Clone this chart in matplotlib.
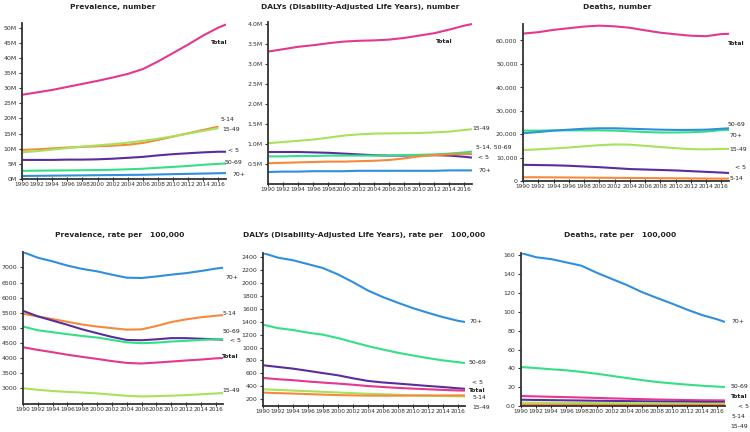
import numpy as np
import matplotlib
matplotlib.use("Agg")
import matplotlib.pyplot as plt
from matplotlib.ticker import FuncFormatter

years = [1990, 1992, 1994, 1996, 1998, 2000, 2002, 2004, 2006, 2008, 2010, 2012, 2014, 2016, 2017]
groups = ["Total", "5-14", "15-49", "< 5", "50-69", "70+"]
colors = {"Total": "#e4378d", "5-14": "#f5893d", "15-49": "#a8e25c",
          "< 5": "#5a2d9f", "50-69": "#34df86", "70+": "#2f8fdd"}

# Prevalence, number (millions)
prev_num = {
    "Total": [27.8, 28.6, 29.4, 30.4, 31.4, 32.4, 33.5, 34.7, 36.3, 38.8, 41.6, 44.4, 47.4, 50.0, 51.0],
    "5-14": [9.6, 9.8, 10.1, 10.4, 10.6, 10.8, 11.0, 11.3, 11.9, 12.9, 14.0, 15.1, 16.2, 17.3, np.nan],
    "15-49": [8.8, 9.2, 9.7, 10.2, 10.7, 11.1, 11.5, 12.0, 12.6, 13.3, 14.1, 15.0, 15.9, 16.8, np.nan],
    "< 5": [6.3, 6.3, 6.3, 6.4, 6.4, 6.5, 6.7, 7.0, 7.3, 7.8, 8.2, 8.5, 8.8, 9.0, 9.0],
    "50-69": [2.7, 2.75, 2.8, 2.85, 2.9, 2.95, 3.05, 3.2, 3.4, 3.7, 4.0, 4.3, 4.7, 5.0, 5.1],
    "70+": [1.0, 1.05, 1.1, 1.15, 1.2, 1.25, 1.3, 1.35, 1.4, 1.5, 1.6, 1.7, 1.8, 1.9, 1.95],
}
# DALYs, number (millions)
daly_num = {
    "Total": [3.31, 3.37, 3.43, 3.47, 3.52, 3.56, 3.58, 3.59, 3.61, 3.65, 3.71, 3.77, 3.86, 3.96, 4.0],
    "15-49": [1.02, 1.05, 1.08, 1.11, 1.16, 1.21, 1.24, 1.26, 1.265, 1.27, 1.275, 1.29, 1.31, 1.35, 1.37],
    "< 5": [0.80, 0.80, 0.80, 0.79, 0.78, 0.76, 0.74, 0.72, 0.71, 0.71, 0.72, 0.72, 0.71, 0.68, 0.66],
    "50-69": [0.69, 0.69, 0.70, 0.70, 0.71, 0.71, 0.71, 0.71, 0.71, 0.72, 0.73, 0.74, 0.76, 0.79, 0.81],
    "5-14": [0.52, 0.53, 0.54, 0.55, 0.56, 0.56, 0.57, 0.58, 0.60, 0.64, 0.69, 0.72, 0.74, 0.75, 0.75],
    "70+": [0.30, 0.31, 0.31, 0.32, 0.32, 0.32, 0.33, 0.33, 0.33, 0.33, 0.33, 0.33, 0.34, 0.34, 0.34],
}
# Deaths, number
death_num = {
    "Total": [62900, 63500, 64500, 65200, 65900, 66300, 66000, 65400, 64300, 63300, 62600, 62000, 61800, 62700, 62800],
    "50-69": [21500, 21500, 21600, 21600, 21600, 21600, 21500, 21200, 20900, 20700, 20700, 20800, 21100, 21700, 21800],
    "70+": [20400, 20900, 21500, 21900, 22300, 22500, 22500, 22300, 22100, 21900, 21800, 21800, 21900, 22300, 22500],
    "15-49": [13200, 13500, 13900, 14300, 14800, 15300, 15600, 15500, 15000, 14500, 14000, 13600, 13500, 13700, 13700],
    "< 5": [6900, 6800, 6700, 6500, 6200, 5900, 5500, 5100, 4900, 4700, 4500, 4200, 3900, 3600, 3400],
    "5-14": [1600, 1600, 1550, 1500, 1450, 1400, 1350, 1300, 1250, 1200, 1150, 1100, 1050, 1000, 1000],
}
# Prevalence, rate per 100,000
prev_rate = {
    "70+": [7508, 7320, 7200, 7060, 6950, 6870, 6760, 6660, 6650, 6700, 6760, 6810, 6880, 6960, 6990],
    "5-14": [5464, 5380, 5290, 5200, 5110, 5044, 4990, 4940, 4950, 5060, 5190, 5280, 5350, 5400, 5420],
    "< 5": [5563, 5380, 5240, 5100, 4950, 4823, 4700, 4600, 4590, 4620, 4660, 4660, 4640, 4620, 4610],
    "50-69": [5044, 4920, 4856, 4790, 4730, 4680, 4600, 4520, 4492, 4510, 4547, 4570, 4600, 4620, 4630],
    "Total": [4359, 4270, 4193, 4110, 4040, 3972, 3900, 3840, 3820, 3850, 3884, 3920, 3950, 3990, 4000],
    "15-49": [3000, 2950, 2910, 2880, 2860, 2830, 2790, 2750, 2730, 2740, 2755, 2775, 2800, 2830, 2840],
}
# DALYs, rate per 100,000
daly_rate = {
    "70+": [2462, 2390, 2350, 2290, 2230, 2132, 2013, 1884, 1781, 1694, 1611, 1539, 1472, 1415, 1395],
    "50-69": [1354, 1300, 1271, 1230, 1199, 1147, 1085, 1023, 970, 920, 878, 838, 802, 775, 760],
    "< 5": [726, 700, 674, 640, 605, 571, 525, 484, 460, 443, 425, 406, 390, 370, 362],
    "Total": [530, 510, 495, 475, 458, 443, 425, 405, 390, 376, 365, 355, 345, 336, 334],
    "15-49": [355, 345, 335, 325, 315, 305, 295, 285, 278, 270, 262, 256, 250, 246, 245],
    "5-14": [303, 295, 288, 280, 272, 265, 260, 257, 256, 256, 257, 258, 259, 260, 260],
}
# Deaths, rate per 100,000
death_rate = {
    "70+": [162.5, 158, 156, 152.5, 149, 141.6, 135, 128.5, 121, 114.7, 108.7, 102.3, 96.5, 92, 89.2],
    "50-69": [41.4, 40.3, 39.0, 37.9, 36.2, 34.3, 32.0, 29.7, 27.5, 25.5, 24.0, 22.7, 21.5, 20.6, 20.2],
    "Total": [10.6, 10.2, 9.8, 9.4, 9.0, 8.6, 8.1, 7.7, 7.3, 6.9, 6.6, 6.3, 6.1, 6.0, 5.9],
    "< 5": [6.7, 6.4, 6.2, 6.0, 5.8, 5.6, 5.4, 5.2, 5.0, 4.8, 4.6, 4.5, 4.3, 4.2, 4.2],
    "15-49": [3.6, 3.5, 3.4, 3.3, 3.2, 3.1, 3.0, 2.9, 2.8, 2.7, 2.6, 2.6, 2.5, 2.5, 2.5],
    "5-14": [1.4, 1.4, 1.35, 1.3, 1.25, 1.2, 1.15, 1.1, 1.1, 1.05, 1.0, 1.0, 1.0, 1.0, 1.0],
}

# end-of-line labels: (text, year, value)
prev_num_labels = [("Total", 2015.0, 44.9), ("5-14", 2016.3, 19.8), ("15-49", 2016.5, 16.4),
                   ("< 5", 2017.3, 9.5), ("50-69", 2016.8, 5.5), ("70+", 2017.8, 1.65)]
daly_num_labels = [("Total", 2012.2, 3.56), ("15-49", 2017.1, 1.39), ("5-14, 50-69", 2017.5, 0.92),
                   ("< 5", 2017.8, 0.66), ("70+", 2017.8, 0.33)]
death_num_labels = [("Total", 2016.9, 58700), ("50-69", 2016.8, 24100), ("70+", 2017.1, 19500),
                    ("15-49", 2017.1, 13500), ("< 5", 2017.8, 5550), ("5-14", 2017.1, 1000)]
prev_rate_labels = [("70+", 2017.4, 6680), ("5-14", 2017.0, 5464), ("50-69", 2016.9, 4878),
                    ("< 5", 2017.9, 4569), ("Total", 2016.9, 4050), ("15-49", 2016.9, 2922)]
daly_rate_labels = [("70+", 2017.6, 1395), ("50-69", 2017.5, 766), ("< 5", 2018.0, 457),
                    ("Total", 2017.5, 338), ("5-14", 2018.0, 225), ("15-49", 2018.0, 70)]
death_rate_labels = [("70+", 2017.8, 89.9), ("50-69", 2017.7, 21.2), ("Total", 2017.8, 10.3),
                     ("< 5", 2018.7, 0.0), ("5-14", 2017.9, -11.0), ("15-49", 2017.7, -22.3)]

W, H = 750, 432
fig = plt.figure(figsize=(7.5, 4.32), dpi=100)
plt.rcParams['font.family'] = 'DejaVu Sans'


def make_ax(left, top, bottom, width):
    return fig.add_axes([left / W, 1 - bottom / H, width / W, (bottom - top) / H])


def style(ax, yticks, fmt, ylim):
    ax.set_xlim(1990, 2017)
    ax.set_ylim(*ylim)
    for s in ["top", "right"]:
        ax.spines[s].set_visible(False)
    for s in ["left", "bottom"]:
        ax.spines[s].set_color("#333333")
        ax.spines[s].set_linewidth(1.3)
    ax.set_xticks(range(1990, 2017, 2))
    ax.set_yticks(yticks)
    ax.yaxis.set_major_formatter(FuncFormatter(fmt))
    ax.tick_params(axis="x", labelsize=4.2, length=3, width=0.8, direction="inout",
                   pad=1, colors="#333333")
    ax.tick_params(axis="y", labelsize=4.5, length=2.5, width=0.8, pad=1.5, colors="#333333")


def draw(ax, data, labels):
    for g, vals in data.items():
        ax.plot(years, vals, color=colors[g], linewidth=1.5, solid_capstyle="butt")
    for txt, x, y in labels:
        ax.text(x, y, txt, fontsize=4.4, color="#222222", va="center", ha="left",
                fontweight="bold" if txt == "Total" else "normal", clip_on=False)


# top row
ax1 = make_ax(22, 23, 179, 204)
draw(ax1, prev_num, prev_num_labels)
style(ax1, range(0, 51, 5), lambda v, p: f"{int(v)}M", (0, 51.5))

ax2 = make_ax(268, 22, 184, 204)
draw(ax2, daly_num, daly_num_labels)
style(ax2, np.arange(0.5, 4.01, 0.5), lambda v, p: f"{v:.1f}M", (0, 4.05))

ax3 = make_ax(523, 24, 181, 206)
draw(ax3, death_num, death_num_labels)
style(ax3, range(0, 60001, 10000), lambda v, p: f"{int(v):,}", (0, 67000))

# bottom row
ax4 = make_ax(23, 252, 404, 200)
draw(ax4, prev_rate, prev_rate_labels)
style(ax4, range(3000, 7001, 500), lambda v, p: f"{int(v)}", (2480, 7510))

ax5 = make_ax(263, 253, 406, 202)
draw(ax5, daly_rate, daly_rate_labels)
style(ax5, range(200, 2401, 200), lambda v, p: f"{int(v)}", (96, 2462))

ax6 = make_ax(521, 253, 406, 204)
draw(ax6, death_rate, death_rate_labels)
style(ax6, range(0, 161, 20), lambda v, p: "0.0" if v == 0 else f"{int(v)}", (0, 162.5))

titles = [("Prevalence, number", 113, 7), ("DALYs (Disability-Adjusted Life Years), number", 360, 7),
          ("Deaths, number", 617, 7), ("Prevalence, rate per   100,000", 120, 235),
          ("DALYs (Disability-Adjusted Life Years), rate per   100,000", 364, 235),
          ("Deaths, rate per   100,000", 620, 235)]
for t, x, y in titles:
    fig.text(x / W, 1 - y / H, t, fontsize=5.4, fontweight="bold", ha="center", va="center",
             color="#222222")

fig.savefig("out.png", dpi=100)
